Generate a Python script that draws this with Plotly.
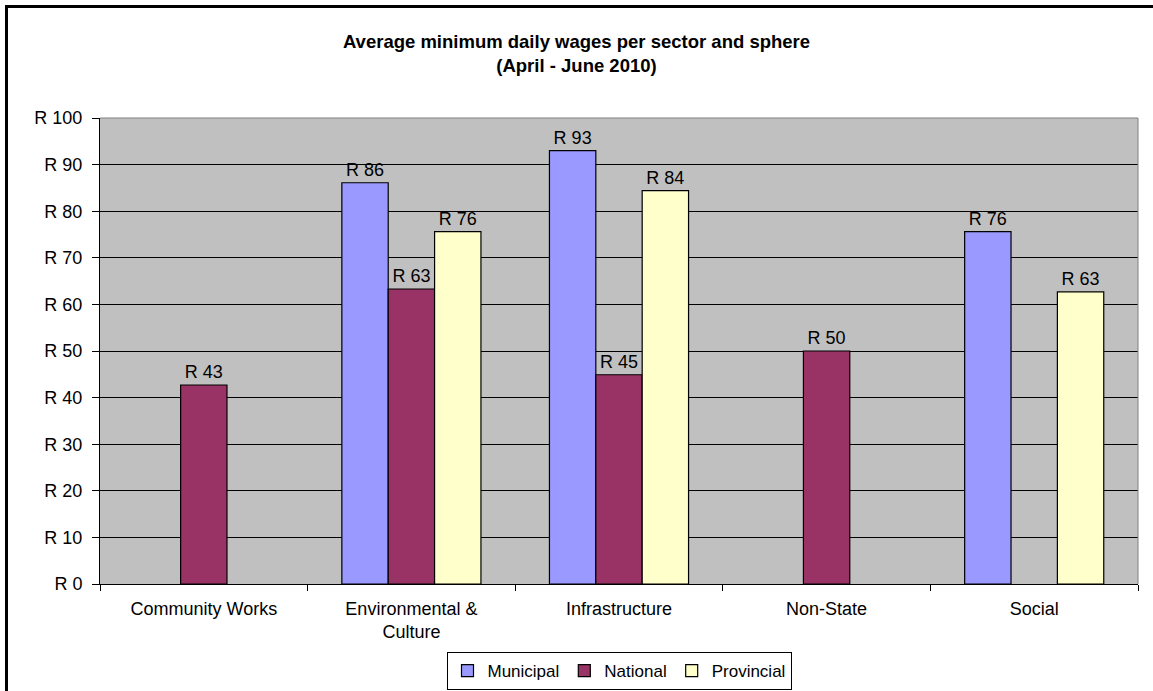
import plotly.graph_objects as go

# Sectors along the x axis
categories = ["Community Works", "Environmental &<br>Culture", "Infrastructure", "Non-State", "Social"]

# Average minimum daily wage (Rand) per sphere of government; None = no projects
municipal = [None, 86.1, 93.0, None, 75.6]
national = [42.7, 63.3, 44.9, 50.0, None]
provincial = [None, 75.6, 84.4, None, 62.7]

series_names = ["Municipal", "National", "Provincial"]
series_colors = ["#9999FF", "#993366", "#FFFFCC"]

y_tick_values = [0, 10, 20, 30, 40, 50, 60, 70, 80, 90, 100]
y_tick_labels = ["R 0", "R 10", "R 20", "R 30", "R 40", "R 50", "R 60", "R 70", "R 80", "R 90", "R 100"]

FONT = "Arial, 'Liberation Sans', sans-serif"
TEXT_SIZE = 18


def rand_label(v):
    return "" if v is None else f"R {round(v)}"


fig = go.Figure()
for name, values, color in zip(series_names, [municipal, national, provincial], series_colors):
    fig.add_trace(go.Bar(
        name=name,
        x=categories,
        y=values,
        text=[rand_label(v) for v in values],
        textposition="outside",
        constraintext="none",
        cliponaxis=False,
        textfont=dict(family=FONT, size=TEXT_SIZE, color="black"),
        marker=dict(color=color, line=dict(color="black", width=1.2)),
    ))

fig.update_layout(
    width=1153,
    height=691,
    barmode="group",
    bargap=0.33,
    bargroupgap=0,
    paper_bgcolor="white",
    plot_bgcolor="#C0C0C0",
    margin=dict(l=100, r=15, t=118, b=107, pad=0, autoexpand=False),
    font=dict(family=FONT, size=TEXT_SIZE, color="black"),
    title=dict(
        text="<b>Average minimum daily wages per sector and sphere<br>(April - June 2010)</b>",
        x=0.5, xref="container", xanchor="center",
        y=1 - 48 / 691, yref="container", yanchor="middle",
        font=dict(family=FONT, size=18.5, color="black"),
    ),
    legend=dict(
        orientation="h",
        x=0.5, xanchor="center",
        y=20 / 691, yref="container", yanchor="middle",
        bordercolor="black", borderwidth=1,
        bgcolor="white",
        font=dict(family=FONT, size=17, color="black"),
        itemwidth=30,
        tracegroupgap=0,
    ),
    showlegend=True,
)

fig.update_yaxes(
    range=[0, 100],
    tickvals=y_tick_values,
    ticktext=y_tick_labels,
    ticks="outside", ticklen=7, tickcolor="black", tickwidth=1,
    ticklabelstandoff=6,
    showgrid=True, gridcolor="black", gridwidth=1,
    zeroline=False,
    showline=True, linecolor="black", linewidth=1,
    automargin=False,
    tickfont=dict(family=FONT, size=TEXT_SIZE, color="black"),
)
fig.update_xaxes(
    ticks="outside", ticklen=6, tickcolor="black", tickwidth=1,
    tickson="boundaries",
    ticklabelstandoff=8,
    showline=True, linecolor="black", linewidth=1,
    showgrid=False,
    automargin=False,
    tickfont=dict(family=FONT, size=TEXT_SIZE, color="black"),
)

# Grey border on the open sides of the plot area, and the outer chart frame
fig.add_shape(type="line", xref="paper", yref="paper", x0=0, x1=1, y0=1, y1=1,
              line=dict(color="#808080", width=1))
fig.add_shape(type="line", xref="paper", yref="paper", x0=1, x1=1, y0=0, y1=1,
              line=dict(color="#808080", width=1))
fig.add_shape(type="rect", xref="paper", yref="paper",
              x0=(6.5 - 100) / 1038, x1=1.05,
              y0=-0.3, y1=(584 - 6.5) / 466,
              line=dict(color="black", width=3), fillcolor="rgba(0,0,0,0)")

fig.write_html("out.html")
